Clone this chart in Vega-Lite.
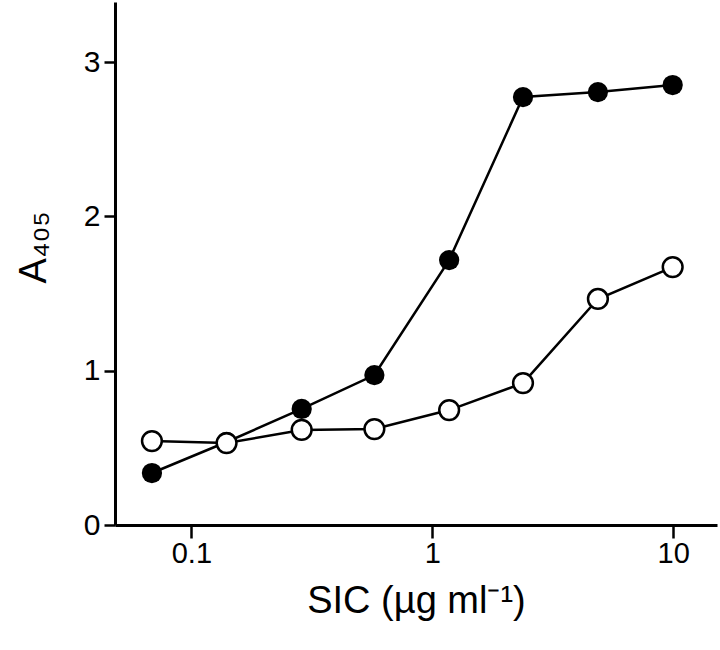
{
  "$schema": "https://vega.github.io/schema/vega-lite/v6.json",
  "width": 602,
  "height": 523,
  "autosize": "none",
  "padding": {"left": 115, "top": 2, "right": 3, "bottom": 125},
  "background": "white",
  "config": {"view": {"stroke": null}, "font": "Liberation Sans"},
  "data": {"values": [
    {"conc": 0.0686, "a405": 0.337, "series": "filled"},
    {"conc": 0.140, "a405": 0.538, "series": "filled"},
    {"conc": 0.287, "a405": 0.752, "series": "filled"},
    {"conc": 0.575, "a405": 0.972, "series": "filled"},
    {"conc": 1.175, "a405": 1.717, "series": "filled"},
    {"conc": 2.38, "a405": 2.774, "series": "filled"},
    {"conc": 4.87, "a405": 2.806, "series": "filled"},
    {"conc": 9.95, "a405": 2.852, "series": "filled"},
    {"conc": 0.0686, "a405": 0.544, "series": "open"},
    {"conc": 0.140, "a405": 0.531, "series": "open"},
    {"conc": 0.287, "a405": 0.616, "series": "open"},
    {"conc": 0.575, "a405": 0.622, "series": "open"},
    {"conc": 1.175, "a405": 0.745, "series": "open"},
    {"conc": 2.38, "a405": 0.920, "series": "open"},
    {"conc": 4.87, "a405": 1.465, "series": "open"},
    {"conc": 9.95, "a405": 1.672, "series": "open"}
  ]},
  "encoding": {
    "x": {
      "field": "conc", "type": "quantitative",
      "scale": {"type": "log", "domain": [0.0482, 15.2], "nice": false},
      "axis": {
        "values": [0.1, 1, 10], "format": "~g", "grid": false,
        "domainColor": "black", "domainWidth": 3, "tickColor": "black", "tickWidth": 2.5, "tickSize": 13,
        "labelFontSize": 29, "labelColor": "black", "labelPadding": 1,
        "title": "SIC (µg ml⁻¹)", "titleFontSize": 38, "titleFontWeight": "normal", "titleColor": "black", "titlePadding": 14
      }
    },
    "y": {
      "field": "a405", "type": "quantitative",
      "scale": {"domain": [0, 3.39], "nice": false},
      "axis": {
        "values": [0, 1, 2, 3], "grid": false,
        "domainColor": "black", "domainWidth": 3, "tickColor": "black", "tickWidth": 2.5, "tickSize": 11,
        "labelFontSize": 30, "labelColor": "black", "labelPadding": 4,
        "title": "A₄₀₅", "titleFontSize": 38, "titleFontWeight": "normal", "titleColor": "black", "titlePadding": 30, "titleY": 245
      }
    }
  },
  "layer": [
    {"mark": {"type": "line", "color": "black", "strokeWidth": 2.5}, "encoding": {"detail": {"field": "series"}}},
    {"transform": [{"filter": "datum.series === 'filled'"}], "mark": {"type": "circle", "size": 410, "color": "black", "opacity": 1}},
    {"transform": [{"filter": "datum.series === 'open'"}], "mark": {"type": "point", "shape": "circle", "size": 390, "filled": true, "fill": "white", "stroke": "black", "strokeWidth": 2.5, "opacity": 1}}
  ]
}
